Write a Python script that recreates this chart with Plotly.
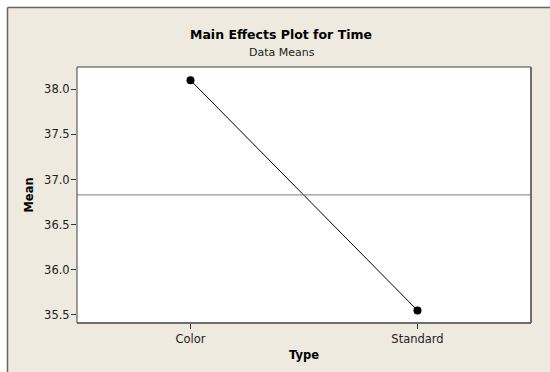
import plotly.graph_objects as go

types = ["Color", "Standard"]
means = [38.10, 35.55]
grand_mean = 36.83
y_ticks = [35.5, 36.0, 36.5, 37.0, 37.5, 38.0]
y_tick_labels = ["35.5", "36.0", "36.5", "37.0", "37.5", "38.0"]

W, H = 550, 372
L, R, T, B = 77, 19, 67, 49
pw, ph = W - L - R, H - T - B

def px(x):
    return (x - L) / pw

def py(y):
    return (H - B - y) / ph

BEIGE = "#EEEAE0"
FONT = "DejaVu Sans"

fig = go.Figure()
fig.add_trace(go.Scatter(
    x=types, y=means, mode="lines+markers",
    line=dict(color="black", width=1),
    marker=dict(color="black", size=8),
    showlegend=False, hoverinfo="skip",
))

shapes = [
    # white outer strips (left and top)
    dict(type="rect", xref="paper", yref="paper", x0=px(-5), y0=py(380), x1=px(7), y1=py(-5),
         fillcolor="white", line=dict(width=0), layer="below"),
    dict(type="rect", xref="paper", yref="paper", x0=px(-5), y0=py(7), x1=px(560), y1=py(-5),
         fillcolor="white", line=dict(width=0), layer="below"),
    # frame lines
    dict(type="line", xref="paper", yref="paper", x0=px(7.5), x1=px(7.5), y0=py(380), y1=py(7.5),
         line=dict(color="#666666", width=1.5), layer="below"),
    dict(type="line", xref="paper", yref="paper", x0=px(7.5), x1=px(560), y0=py(7.5), y1=py(7.5),
         line=dict(color="#666666", width=1.5), layer="below"),
    dict(type="line", xref="paper", yref="y", x0=0, x1=1, y0=grand_mean, y1=grand_mean,
         line=dict(color="#7a7a7a", width=1), layer="above"),
    # plot border
    dict(type="line", xref="paper", yref="paper", x0=0, x1=0, y0=0, y1=1,
         line=dict(color="#404040", width=1)),
    dict(type="line", xref="paper", yref="paper", x0=0, x1=1, y0=1, y1=1,
         line=dict(color="#404040", width=1)),
    dict(type="line", xref="paper", yref="paper", x0=1, x1=1, y0=0, y1=1,
         line=dict(color="#6e6e6e", width=2)),
    dict(type="line", xref="paper", yref="paper", x0=0, x1=1, y0=0, y1=0,
         line=dict(color="#6e6e6e", width=2)),
]

annotations = [
    dict(text="<b>Main Effects Plot for Time</b>", xref="paper", yref="paper",
         x=px(281), y=py(34), showarrow=False, xanchor="center", yanchor="middle",
         font=dict(family=FONT, size=12.5, color="black")),
    dict(text="Data Means", xref="paper", yref="paper",
         x=px(282), y=py(52.5), showarrow=False, xanchor="center", yanchor="middle",
         font=dict(family=FONT, size=11, color="#222")),
]

fig.update_layout(
    width=W, height=H,
    margin=dict(l=L, r=R, t=T, b=B, pad=0),
    paper_bgcolor=BEIGE, plot_bgcolor="white",
    font=dict(family=FONT, size=11, color="#222"),
    shapes=shapes, annotations=annotations,
    xaxis=dict(
        type="category", range=[-0.5, 1.5], showgrid=False, zeroline=False,
        showline=False, ticks="outside", ticklen=5, tickcolor="#333", tickwidth=1,
        tickfont=dict(family=FONT, size=11.5, color="#222"),
        title=dict(text="<b>Type</b>", font=dict(family=FONT, size=11.5, color="black"), standoff=6),
    ),
    yaxis=dict(
        range=[35.411, 38.247], showgrid=False, zeroline=False, showline=False,
        tickvals=y_ticks, ticktext=y_tick_labels,
        ticks="outside", ticklen=5, tickcolor="#333", tickwidth=1,
        ticklabelstandoff=-1,
        tickfont=dict(family=FONT, size=11.5, color="#222"),
        title=dict(text="<b>Mean</b>", font=dict(family=FONT, size=11.5, color="black"), standoff=8),
    ),
)

fig.write_html("out.html", config={"displayModeBar": False},
               post_script="document.body.style.margin='0';document.body.style.overflow='hidden';")
